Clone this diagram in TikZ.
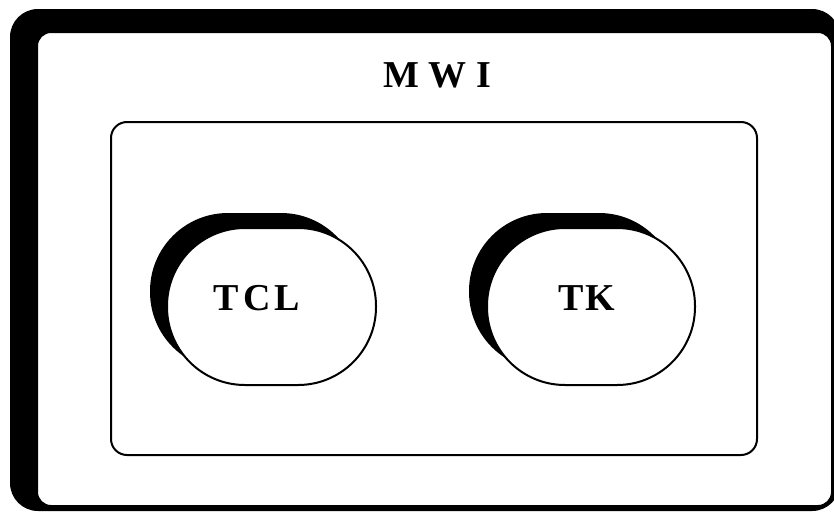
\documentclass[tikz,border=0pt]{standalone}
\usepackage{fontspec}
\setmainfont{Liberation Serif}
\begin{document}
\begin{tikzpicture}[x=1pt,y=-1pt,
  frame/.style={draw=black,line width=2pt,fill=white},
  lbl/.style={font=\fontsize{38}{40}\selectfont\bfseries,text=black,inner sep=0pt}]
\useasboundingbox (0,0) rectangle (834,514);
% outer shadow and box
\fill[black,rounded corners=28pt] (10,9) rectangle (840,511);
\draw[frame,rounded corners=14pt] (37,32) rectangle (832,506);
\node[lbl] (mwi) at (437,75) {M W I};
% inner box
\draw[frame,rounded corners=16pt] (111,122) rectangle (757,455);
% TCL pill
\fill[black,rounded corners=78pt] (150,213) rectangle (359,370);
\draw[frame,rounded corners=78pt] (167,228) rectangle (376,385);
\node[lbl] (tcl) at (257,298) {T\kern4pt C\kern4pt L};
% TK pill
\fill[black,rounded corners=78pt] (469,213) rectangle (677,370);
\draw[frame,rounded corners=78pt] (487,228) rectangle (695,385);
\node[lbl] (tk) at (587,298) {T\kern2pt K};
\end{tikzpicture}
\end{document}
